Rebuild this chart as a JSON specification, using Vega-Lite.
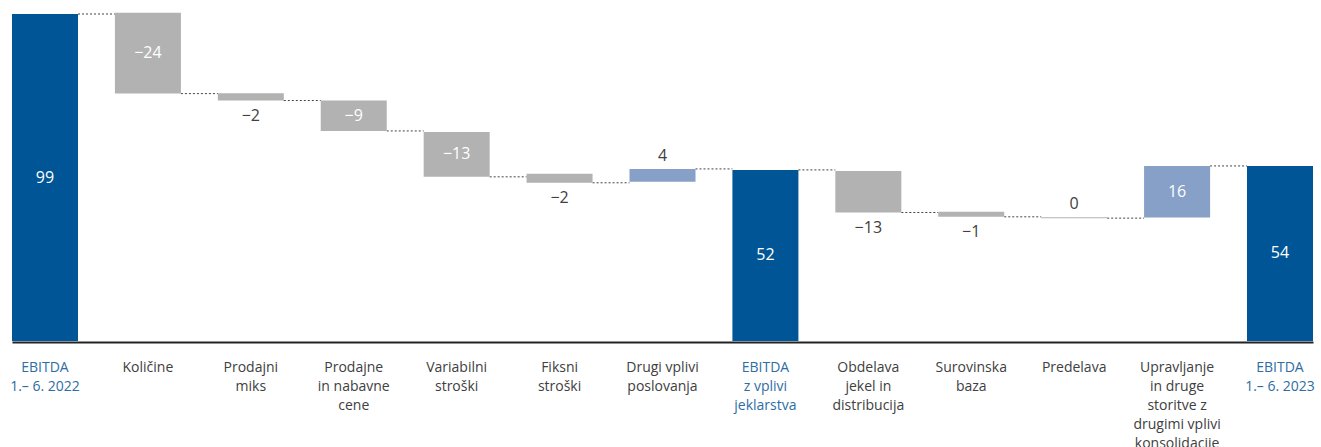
{
  "$schema": "https://vega.github.io/schema/vega-lite/v6.json",
  "width": 1301,
  "height": 327,
  "autosize": {"type": "none"},
  "padding": {"left": 12, "top": 14, "right": 8, "bottom": 106},
  "background": "white",
  "config": {"view": {"stroke": null}, "font": "Open Sans"},
  "data": {
    "values": [
      {"category": "EBITDA|1.– 6. 2022", "start": 0, "end": 99, "label": "99", "kind": "total", "next": "Količine"},
      {"category": "Količine", "start": 99.4, "end": 74.9, "label": "−24", "kind": "neg", "next": "Prodajni|miks"},
      {"category": "Prodajni|miks", "start": 75.0, "end": 72.8, "label": "−2", "kind": "neg", "next": "Prodajne|in nabavne|cene"},
      {"category": "Prodajne|in nabavne|cene", "start": 72.8, "end": 63.6, "label": "−9", "kind": "neg", "next": "Variabilni|stroški"},
      {"category": "Variabilni|stroški", "start": 63.3, "end": 49.7, "label": "−13", "kind": "neg", "next": "Fiksni|stroški"},
      {"category": "Fiksni|stroški", "start": 50.6, "end": 47.9, "label": "−2", "kind": "neg", "next": "Drugi vplivi|poslovanja"},
      {"category": "Drugi vplivi|poslovanja", "start": 48.2, "end": 52.1, "label": "4", "kind": "pos", "next": "EBITDA|z vplivi|jeklarstva"},
      {"category": "EBITDA|z vplivi|jeklarstva", "start": 0, "end": 51.8, "label": "52", "kind": "total", "next": "Obdelava|jekel in|distribucija"},
      {"category": "Obdelava|jekel in|distribucija", "start": 51.5, "end": 38.9, "label": "−13", "kind": "neg", "next": "Surovinska|baza"},
      {"category": "Surovinska|baza", "start": 39.1, "end": 37.6, "label": "−1", "kind": "neg", "next": "Predelava"},
      {"category": "Predelava", "start": 37.5, "end": 37.2, "label": "0", "kind": "neg", "next": "Upravljanje|in druge|storitve z|drugimi vplivi|konsolidacije"},
      {"category": "Upravljanje|in druge|storitve z|drugimi vplivi|konsolidacije", "start": 37.4, "end": 53.0, "label": "16", "kind": "pos", "next": "EBITDA|1.– 6. 2023"},
      {"category": "EBITDA|1.– 6. 2023", "start": 0, "end": 53.0, "label": "54", "kind": "total", "next": null}
    ]
  },
  "transform": [
    {"calculate": "(datum.start + datum.end) / 2", "as": "mid"},
    {"calculate": "min(datum.start, datum.end)", "as": "low"},
    {"calculate": "max(datum.start, datum.end)", "as": "high"}
  ],
  "encoding": {
    "x": {
      "field": "category",
      "type": "nominal",
      "sort": null,
      "scale": {
        "domain": ["EBITDA|1.– 6. 2022", "Količine", "Prodajni|miks", "Prodajne|in nabavne|cene", "Variabilni|stroški", "Fiksni|stroški", "Drugi vplivi|poslovanja", "EBITDA|z vplivi|jeklarstva", "Obdelava|jekel in|distribucija", "Surovinska|baza", "Predelava", "Upravljanje|in druge|storitve z|drugimi vplivi|konsolidacije", "EBITDA|1.– 6. 2023"],
        "paddingInner": 0.3587,
        "paddingOuter": 0
      },
      "axis": {
        "title": null,
        "labelAngle": 0,
        "labelExpr": "split(datum.value, '|')",
        "labelFont": "Open Sans",
        "labelFontSize": 14,
        "labelLineHeight": 19,
        "labelPadding": 18,
        "labelOverlap": false,
        "labelBound": false,
        "labelColor": {"condition": {"test": "indexof(datum.value, 'EBITDA') >= 0", "value": "#2E6DA4"}, "value": "#404040"},
        "ticks": false,
        "domain": true,
        "domainColor": "#222222",
        "domainWidth": 2,
        "offset": 1
      }
    }
  },
  "layer": [
    {
      "transform": [{"filter": "datum.next != null"}],
      "mark": {"type": "rule", "strokeDash": [2, 2], "color": "#444444", "strokeWidth": 1},
      "encoding": {
        "x": {"field": "category", "type": "nominal", "bandPosition": 1},
        "x2": {"field": "next", "bandPosition": 0},
        "y": {"field": "end", "type": "quantitative", "scale": {"domain": [0, 99], "nice": false}, "axis": null}
      }
    },
    {
      "mark": {"type": "bar"},
      "encoding": {
        "y": {"field": "start", "type": "quantitative", "scale": {"domain": [0, 99], "nice": false}, "axis": null},
        "y2": {"field": "end"},
        "color": {"field": "kind", "type": "nominal", "scale": {"domain": ["total", "neg", "pos"], "range": ["#005596", "#B2B2B2", "#86A0C8"]}, "legend": null}
      }
    },
    {
      "transform": [{"filter": "datum.kind == 'total' || indexof(['Količine', 'Prodajne|in nabavne|cene', 'Variabilni|stroški', 'Upravljanje|in druge|storitve z|drugimi vplivi|konsolidacije'], datum.category) >= 0"}],
      "mark": {"type": "text", "color": "white", "fontSize": 16, "baseline": "middle", "font": "Open Sans"},
      "encoding": {
        "y": {"field": "mid", "type": "quantitative"},
        "text": {"field": "label"}
      }
    },
    {
      "transform": [{"filter": "indexof(['Prodajni|miks', 'Fiksni|stroški', 'Obdelava|jekel in|distribucija', 'Surovinska|baza'], datum.category) >= 0"}],
      "mark": {"type": "text", "color": "#404040", "fontSize": 16, "baseline": "middle", "dy": 15, "font": "Open Sans"},
      "encoding": {
        "y": {"field": "low", "type": "quantitative"},
        "text": {"field": "label"}
      }
    },
    {
      "transform": [{"filter": "indexof(['Drugi vplivi|poslovanja', 'Predelava'], datum.category) >= 0"}],
      "mark": {"type": "text", "color": "#404040", "fontSize": 16, "baseline": "middle", "dy": -13, "font": "Open Sans"},
      "encoding": {
        "y": {"field": "high", "type": "quantitative"},
        "text": {"field": "label"}
      }
    }
  ]
}
